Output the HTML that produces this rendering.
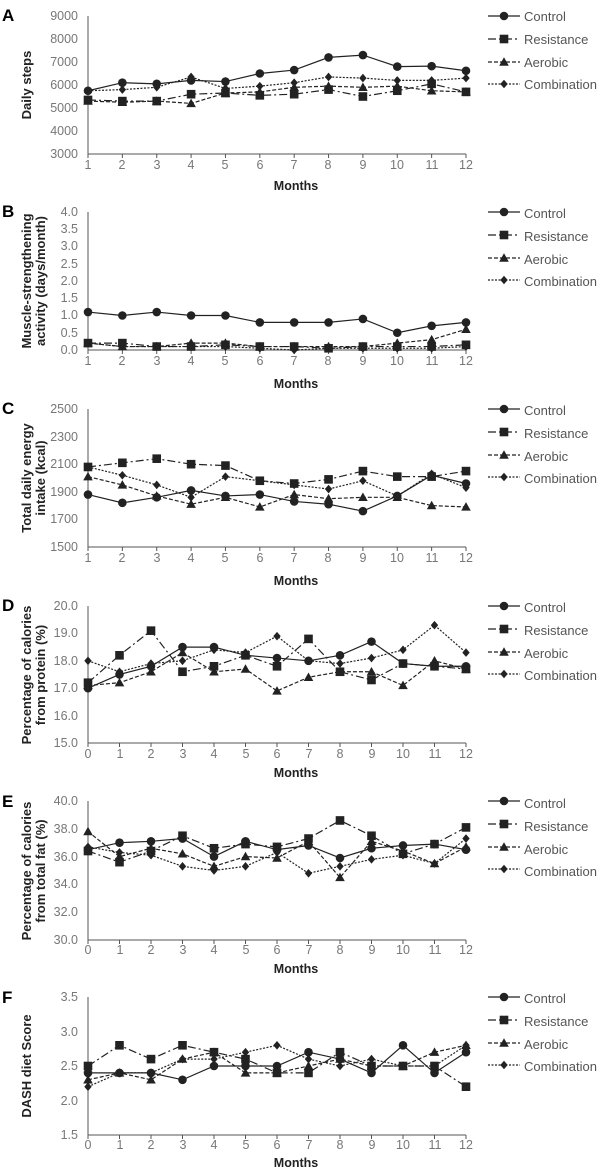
<!DOCTYPE html><html><head><style>body{margin:0;background:#fff}svg{font-family:"Liberation Sans",sans-serif}.t{fill:#777;font-size:12.5px}.b{font-weight:bold;font-size:12.5px;fill:#222}.Y{font-weight:bold;font-size:13px;fill:#222}.L{font-size:13px;fill:#555}.P{font-weight:bold;font-size:17px}</style></head><body>
<svg id="s" width="600" height="1169" xmlns="http://www.w3.org/2000/svg">
<g text-anchor="start"><text class="P" x="2" y="21">A</text><text class="P" x="2" y="217">B</text><text class="P" x="2" y="414">C</text><text class="P" x="2" y="611">D</text><text class="P" x="2" y="807">E</text><text class="P" x="2" y="1003">F</text></g>
<g class="t" text-anchor="end">
<text x="78" y="20">9000</text><text x="78" y="43">8000</text><text x="78" y="66">7000</text><text x="78" y="89">6000</text><text x="78" y="112">5000</text><text x="78" y="135">4000</text><text x="78" y="158">3000</text>
<text x="78" y="216">4.0</text><text x="78" y="233">3.5</text><text x="78" y="250">3.0</text><text x="78" y="268">2.5</text><text x="78" y="285">2.0</text><text x="78" y="302">1.5</text><text x="78" y="319">1.0</text><text x="78" y="337">0.5</text><text x="78" y="354">0.0</text>
<text x="78" y="413">2500</text><text x="78" y="441">2300</text><text x="78" y="468">2100</text><text x="78" y="496">1900</text><text x="78" y="523">1700</text><text x="78" y="551">1500</text>
<text x="78" y="610">20.0</text><text x="78" y="637">19.0</text><text x="78" y="665">18.0</text><text x="78" y="692">17.0</text><text x="78" y="720">16.0</text><text x="78" y="747">15.0</text>
<text x="78" y="805">40.0</text><text x="78" y="833">38.0</text><text x="78" y="861">36.0</text><text x="78" y="888">34.0</text><text x="78" y="916">32.0</text><text x="78" y="944">30.0</text>
<text x="78" y="1001">3.5</text><text x="78" y="1036">3.0</text><text x="78" y="1070">2.5</text><text x="78" y="1105">2.0</text><text x="78" y="1139">1.5</text>
</g>
<g class="t" text-anchor="middle">
<text x="88" y="169">1</text><text x="122" y="169">2</text><text x="157" y="169">3</text><text x="191" y="169">4</text><text x="225" y="169">5</text><text x="260" y="169">6</text><text x="294" y="169">7</text><text x="328" y="169">8</text><text x="363" y="169">9</text><text x="397" y="169">10</text><text x="432" y="169">11</text><text x="466" y="169">12</text>
<text x="88" y="365">1</text><text x="122" y="365">2</text><text x="157" y="365">3</text><text x="191" y="365">4</text><text x="225" y="365">5</text><text x="260" y="365">6</text><text x="294" y="365">7</text><text x="328" y="365">8</text><text x="363" y="365">9</text><text x="397" y="365">10</text><text x="432" y="365">11</text><text x="466" y="365">12</text>
<text x="88" y="562">1</text><text x="122" y="562">2</text><text x="157" y="562">3</text><text x="191" y="562">4</text><text x="225" y="562">5</text><text x="260" y="562">6</text><text x="294" y="562">7</text><text x="328" y="562">8</text><text x="363" y="562">9</text><text x="397" y="562">10</text><text x="432" y="562">11</text><text x="466" y="562">12</text>
<text x="88" y="758">0</text><text x="120" y="758">1</text><text x="151" y="758">2</text><text x="183" y="758">3</text><text x="214" y="758">4</text><text x="246" y="758">5</text><text x="277" y="758">6</text><text x="309" y="758">7</text><text x="340" y="758">8</text><text x="372" y="758">9</text><text x="403" y="758">10</text><text x="435" y="758">11</text><text x="466" y="758">12</text>
<text x="88" y="954">0</text><text x="120" y="954">1</text><text x="151" y="954">2</text><text x="183" y="954">3</text><text x="214" y="954">4</text><text x="246" y="954">5</text><text x="277" y="954">6</text><text x="309" y="954">7</text><text x="340" y="954">8</text><text x="372" y="954">9</text><text x="403" y="954">10</text><text x="435" y="954">11</text><text x="466" y="954">12</text>
<text x="88" y="1149">0</text><text x="120" y="1149">1</text><text x="151" y="1149">2</text><text x="183" y="1149">3</text><text x="214" y="1149">4</text><text x="246" y="1149">5</text><text x="277" y="1149">6</text><text x="309" y="1149">7</text><text x="340" y="1149">8</text><text x="372" y="1149">9</text><text x="403" y="1149">10</text><text x="435" y="1149">11</text><text x="466" y="1149">12</text>
</g>
<g class="b" text-anchor="middle">
<text x="296" y="190">Months</text><text x="296" y="388">Months</text><text x="296" y="585">Months</text><text x="296" y="777">Months</text><text x="296" y="973">Months</text><text x="296" y="1167">Months</text>
</g>
<g class="Y" text-anchor="middle">
<text transform="translate(31,85) rotate(-90)">Daily steps</text>
<text transform="translate(31,281) rotate(-90)">Muscle-strengthening</text><text transform="translate(45,281) rotate(-90)">activity (days/month)</text>
<text transform="translate(31,478) rotate(-90)">Total daily energy</text><text transform="translate(45,478) rotate(-90)">intake (kcal)</text>
<text transform="translate(31,675) rotate(-90)">Percentage of calories</text><text transform="translate(45,675) rotate(-90)">from protein (%)</text>
<text transform="translate(31,871) rotate(-90)">Percentage of calories</text><text transform="translate(45,871) rotate(-90)">from total fat (%)</text>
<text transform="translate(31,1066) rotate(-90)">DASH diet Score</text>
</g>
<g class="L">
<text x="524" y="21">Control</text><text x="524" y="44">Resistance</text><text x="524" y="67">Aerobic</text><text x="524" y="89">Combination</text>
<text x="524" y="218">Control</text><text x="524" y="241">Resistance</text><text x="524" y="264">Aerobic</text><text x="524" y="286">Combination</text>
<text x="524" y="415">Control</text><text x="524" y="438">Resistance</text><text x="524" y="461">Aerobic</text><text x="524" y="483">Combination</text>
<text x="524" y="612">Control</text><text x="524" y="635">Resistance</text><text x="524" y="658">Aerobic</text><text x="524" y="680">Combination</text>
<text x="524" y="808">Control</text><text x="524" y="831">Resistance</text><text x="524" y="854">Aerobic</text><text x="524" y="876">Combination</text>
<text x="524" y="1003">Control</text><text x="524" y="1026">Resistance</text><text x="524" y="1049">Aerobic</text><text x="524" y="1071">Combination</text>
</g>
<g id="g"></g>
</svg>
<script>
var P=[
{t:16,b:154,lo:3000,hi:9000,d:[[5750,6100,6050,6200,6150,6500,6650,7200,7300,6800,6820,6620],[5350,5300,5300,5600,5650,5550,5600,5800,5500,5750,6050,5700],[5300,5250,5300,5200,5650,5700,5900,5950,5900,5950,5750,5700],[5750,5800,5900,6350,5850,5950,6100,6350,6300,6200,6200,6300]]},
{t:212,b:350,lo:0,hi:4,d:[[1.1,1.0,1.1,1.0,1.0,0.8,0.8,0.8,0.9,0.5,0.7,0.8],[0.2,0.2,0.1,0.1,0.15,0.1,0.1,0.05,0.1,0.1,0.1,0.15],[0.2,0.1,0.1,0.2,0.2,0.1,0.1,0.1,0.1,0.2,0.3,0.6],[0.2,0.1,0.1,0.1,0.1,0.05,0,0.05,0.05,0.05,0.05,0.1]]},
{t:409,b:547,lo:1500,hi:2500,d:[[1880,1820,1860,1910,1870,1880,1830,1810,1760,1870,2020,1960],[2080,2110,2140,2100,2090,1980,1960,1990,2050,2010,2010,2050],[2010,1950,1870,1810,1860,1790,1880,1850,1860,1860,1800,1790],[2080,2020,1950,1860,2010,1980,1950,1920,1980,1870,2030,1930]]},
{t:606,b:743,lo:15,hi:20,d:[[17.0,17.5,17.8,18.5,18.5,18.2,18.1,18.0,18.2,18.7,17.9,17.8,17.8],[17.2,18.2,19.1,17.6,17.8,18.2,17.8,18.8,17.6,17.3,17.9,17.8,17.7],[17.1,17.2,17.6,18.3,17.6,17.7,16.9,17.4,17.6,17.6,17.1,18.0,17.7],[18.0,17.6,17.9,18.0,18.4,18.3,18.9,18.0,17.9,18.1,18.4,19.3,18.3]]},
{t:801,b:940,lo:30,hi:40,d:[[36.5,37.0,37.1,37.3,36.0,37.1,36.5,36.8,35.9,36.6,36.8,36.9,36.5],[36.4,35.6,36.4,37.5,36.6,36.9,36.7,37.3,38.6,37.5,36.2,36.9,38.1],[37.8,36.0,36.6,36.2,35.3,36.0,35.9,37.1,34.5,37.1,36.4,35.5,36.7],[36.7,36.3,36.1,35.3,35.0,35.3,36.3,34.8,35.3,35.8,36.1,35.5,37.3]]},
{t:997,b:1135,lo:1.5,hi:3.5,d:[[2.4,2.4,2.4,2.3,2.5,2.5,2.5,2.7,2.6,2.4,2.8,2.4,2.7],[2.5,2.8,2.6,2.8,2.7,2.6,2.4,2.4,2.7,2.5,2.5,2.5,2.2],[2.3,2.4,2.3,2.6,2.7,2.4,2.4,2.5,2.6,2.5,2.5,2.7,2.8],[2.2,2.4,2.4,2.6,2.6,2.7,2.8,2.6,2.5,2.6,2.5,2.5,2.8]]}];
var D=["","8,3,2,3","4,2","2,1.5"];
var h='';
function mk(k,x,y){if(k==0)return '<circle cx="'+x+'" cy="'+y+'" r="4.3" fill="#222"/>';if(k==1)return '<rect x="'+(x-4.3)+'" y="'+(y-4.3)+'" width="8.6" height="8.6" fill="#222"/>';if(k==2)return '<path d="M'+x+' '+(y-4.8)+'L'+(x+4.8)+' '+(y+3.7)+'L'+(x-4.8)+' '+(y+3.7)+'Z" fill="#222"/>';return '<path d="M'+x+' '+(y-4.3)+'L'+(x+3.7)+' '+y+'L'+x+' '+(y+4.3)+'L'+(x-3.7)+' '+y+'Z" fill="#222"/>';}
P.forEach(function(p){var n=p.d[0].length,sx=378/(n-1);
h+='<path d="M88 '+p.t+'V'+p.b+'H466" stroke="#555" fill="none"/>';
for(var i=0;i<n;i++)h+='<line x1="'+(88+i*sx)+'" x2="'+(88+i*sx)+'" y1="'+p.b+'" y2="'+(p.b+4)+'" stroke="#555"/>';
p.d.forEach(function(s,k){var pts=s.map(function(v,i){return [88+i*sx,p.b-(v-p.lo)/(p.hi-p.lo)*(p.b-p.t)]});
h+='<polyline points="'+pts.join(' ')+'" fill="none" stroke="#222" stroke-width="1.2" stroke-dasharray="'+D[k]+'"/>';
pts.forEach(function(q){h+=mk(k,q[0],q[1])});
var ly=p.t+[0,23,46,68][k];
h+='<line x1="488" x2="520" y1="'+ly+'" y2="'+ly+'" stroke="#222" stroke-width="1.2" stroke-dasharray="'+D[k]+'"/>'+mk(k,504,ly);});});
document.getElementById('g').innerHTML=h;
</script></body></html>
